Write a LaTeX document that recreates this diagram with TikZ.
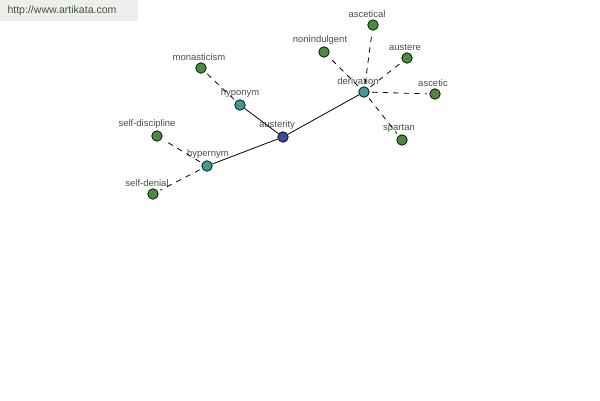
\documentclass[tikz,border=0pt]{standalone}
\usepackage{fontspec}
\setmainfont{Liberation Sans}
\usetikzlibrary{positioning}
\definecolor{rootblue}{HTML}{3C4A9C}
\definecolor{relteal}{HTML}{3C9A98}
\definecolor{leafgreen}{HTML}{4A8A3C}
\definecolor{bannergray}{HTML}{EEEEEE}
\definecolor{bannertext}{HTML}{3E5A2C}

\begin{document}
\begin{tikzpicture}[x=0.02cm,y=-0.02cm]
	
	% 定义样式
	\tikzset{
		word/.style = {
			circle, draw=black, line width=0.4pt,
			minimum size=0.21cm, inner sep=0pt
		},
		rootword/.style = {word, fill=rootblue},
		relword/.style = {word, fill=relteal},
		leafword/.style = {word, fill=leafgreen},
		wordlabel/.style = {
			font=\fontsize{5.4}{6}\selectfont,
			text=black!70, inner sep=0.5pt
		},
		label distance=0.6pt,
		strong link/.style = {line width=0.45pt},
		weak link/.style = {
			line width=0.45pt, dash pattern=on 3pt off 3pt,
			shorten <=1.5pt, shorten >=1.5pt
		}
	}
	
	% 画布
	\useasboundingbox (0,0) rectangle (600,400);
	
	% 网址
	\fill[bannergray] (0,0) rectangle (138,21);
	\node[font=\fontsize{6}{7}\selectfont, text=bannertext] (site) at (62,11) {http://www.artikata.com};
	
	% 中心词与关系
	\node[rootword, label={[wordlabel, xshift=-0.12cm]above:austerity}] (austerity) at (283,137) {};
	\node[relword, label={[wordlabel]above:hyponym}] (hyponym) at (240,105) {};
	\node[relword, label={[wordlabel, xshift=0.02cm]above:hypernym}] (hypernym) at (207,166) {};
	\node[relword, label={[wordlabel, xshift=-0.12cm]above:derivation}] (derivation) at (364,92) {};
	
	% 叶子
	\node[leafword, label={[wordlabel, xshift=-0.04cm]above:monasticism}] (monasticism) at (201,68) {};
	\node[leafword, label={[wordlabel, xshift=-0.2cm]above:self-discipline}] (selfdiscipline) at (157,136) {};
	\node[leafword, label={[wordlabel, xshift=-0.12cm]above:self-denial}] (selfdenial) at (153,194) {};
	\node[leafword, label={[wordlabel, xshift=-0.08cm]above:nonindulgent}] (nonindulgent) at (324,52) {};
	\node[leafword, label={[wordlabel, xshift=-0.12cm]above:ascetical}] (ascetical) at (373,25) {};
	\node[leafword, label={[wordlabel, xshift=-0.04cm]above:austere}] (austere) at (407,58) {};
	\node[leafword, label={[wordlabel, xshift=-0.04cm]above:ascetic}] (ascetic) at (435,94) {};
	\node[leafword, label={[wordlabel, xshift=-0.06cm]above:spartan}] (spartan) at (402,140) {};
	
	% 实线
	\draw[strong link] (austerity) -- (hyponym);
	\draw[strong link] (austerity) -- (hypernym);
	\draw[strong link] (austerity) -- (derivation);
	
	% 虚线
	\draw[weak link] (hyponym) -- (monasticism);
	\draw[weak link] (hypernym) -- (selfdiscipline);
	\draw[weak link] (hypernym) -- (selfdenial);
	\foreach \w in {nonindulgent, ascetical, austere, ascetic, spartan}
		\draw[weak link] (derivation) -- (\w);
	
\end{tikzpicture}
\end{document}
